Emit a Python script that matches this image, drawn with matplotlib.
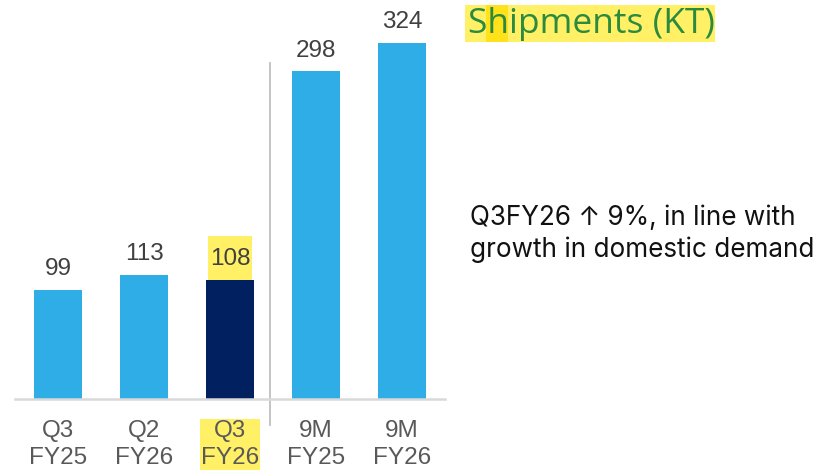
import matplotlib
matplotlib.use("Agg")
import matplotlib.pyplot as plt
from matplotlib.patches import Rectangle

categories = ["Q3\nFY25", "Q2\nFY26", "Q3\nFY26", "9M\nFY25", "9M\nFY26"]
shipments = [99, 113, 108, 298, 324]
bar_colors = ["#2EADE6", "#2EADE6", "#002060", "#2EADE6", "#2EADE6"]
highlight_idx = 2

yellow = "#FFF066"

fig = plt.figure(figsize=(8.18, 4.70), dpi=100)
W, H = 818, 470
# axes placed in pixel terms: x 15..445, baseline at y=399 from top
ax = fig.add_axes([15 / W, (H - 399) / H, 430 / W, 399 / H])
px_per_unit = 1.099
ax.set_xlim(-0.5, 4.5)
ax.set_ylim(0, 399 / px_per_unit)

x = list(range(len(categories)))
bars = ax.bar(x, shipments, width=0.55, color=bar_colors, zorder=2)

value_texts = []
for b, v in zip(bars, shipments):
    t = ax.text(b.get_x() + b.get_width() / 2, v + 13.5, str(v), ha="center",
                va="baseline", fontsize=17.5, color="#404040",
                family="Liberation Sans", zorder=4)
    value_texts.append(t)

for s in ["top", "right", "left"]:
    ax.spines[s].set_visible(False)
ax.spines["bottom"].set_color("#D9D9D9")
ax.spines["bottom"].set_linewidth(1.8)
ax.set_yticks([])
ax.set_xticks(x)
ax.set_xticklabels(categories, fontsize=17.5, color="#595959",
                   family="Liberation Sans", linespacing=1.3)
ax.tick_params(axis="x", length=0, pad=15)
ax.get_xticklabels()[highlight_idx].set_bbox(
    dict(boxstyle="square,pad=0.05", fc=yellow, ec="none"))

# divider between quarterly and nine-month figures
ax.plot([2.47, 2.47], [-24, 306], color="#BFBFBF", lw=1.3, clip_on=False,
        zorder=1)

# title with highlighted background
title = fig.text(468 / W, 1 - 24 / H, "Shipments (KT)", fontsize=25.5,
                 color="#2B8A3E", family="Open Sans", va="center", ha="left",
                 zorder=5)
fig.canvas.draw()
r = fig.canvas.get_renderer()

# yellow marker behind the highlighted value label, from bar top upward
vt = value_texts[highlight_idx].get_window_extent(r)
inv = ax.transData.inverted()
x0 = inv.transform((vt.x0 - 1.5, 0))[0]
x1 = inv.transform((vt.x1 + 1.5, 0))[0]
ax.add_patch(Rectangle((x0, shipments[highlight_idx]), x1 - x0,
                       44 / px_per_unit, fc=yellow, ec="none", zorder=3,
                       clip_on=False))

tb = title.get_window_extent(r)
probe = fig.text(0, 0, "S", fontsize=25.5, family="Open Sans")
w_s = probe.get_window_extent(r).width
probe.set_text("Sh")
w_sh = probe.get_window_extent(r).width
probe.remove()
box_top = H - 5
box_bot = H - 42
fig.patches.append(Rectangle((tb.x0 - 3, box_bot), tb.width + 3,
                             box_top - box_bot, transform=None,
                             fc=yellow, ec="none", zorder=3))
fig.patches.append(Rectangle((tb.x0 + w_s - 1, box_bot), w_sh - w_s,
                             box_top - box_bot, transform=None,
                             fc="#FFE21A", ec="none", zorder=4))

fig.text(470 / W, 1 - 234 / H, "Q3FY26 \u2191 9%, in line with\ngrowth in domestic demand",
         fontsize=18.8, color="#111111", family=["Inter", "DejaVu Sans"],
         va="center", ha="left", linespacing=1.25)

fig.savefig("out.png", dpi=100)
